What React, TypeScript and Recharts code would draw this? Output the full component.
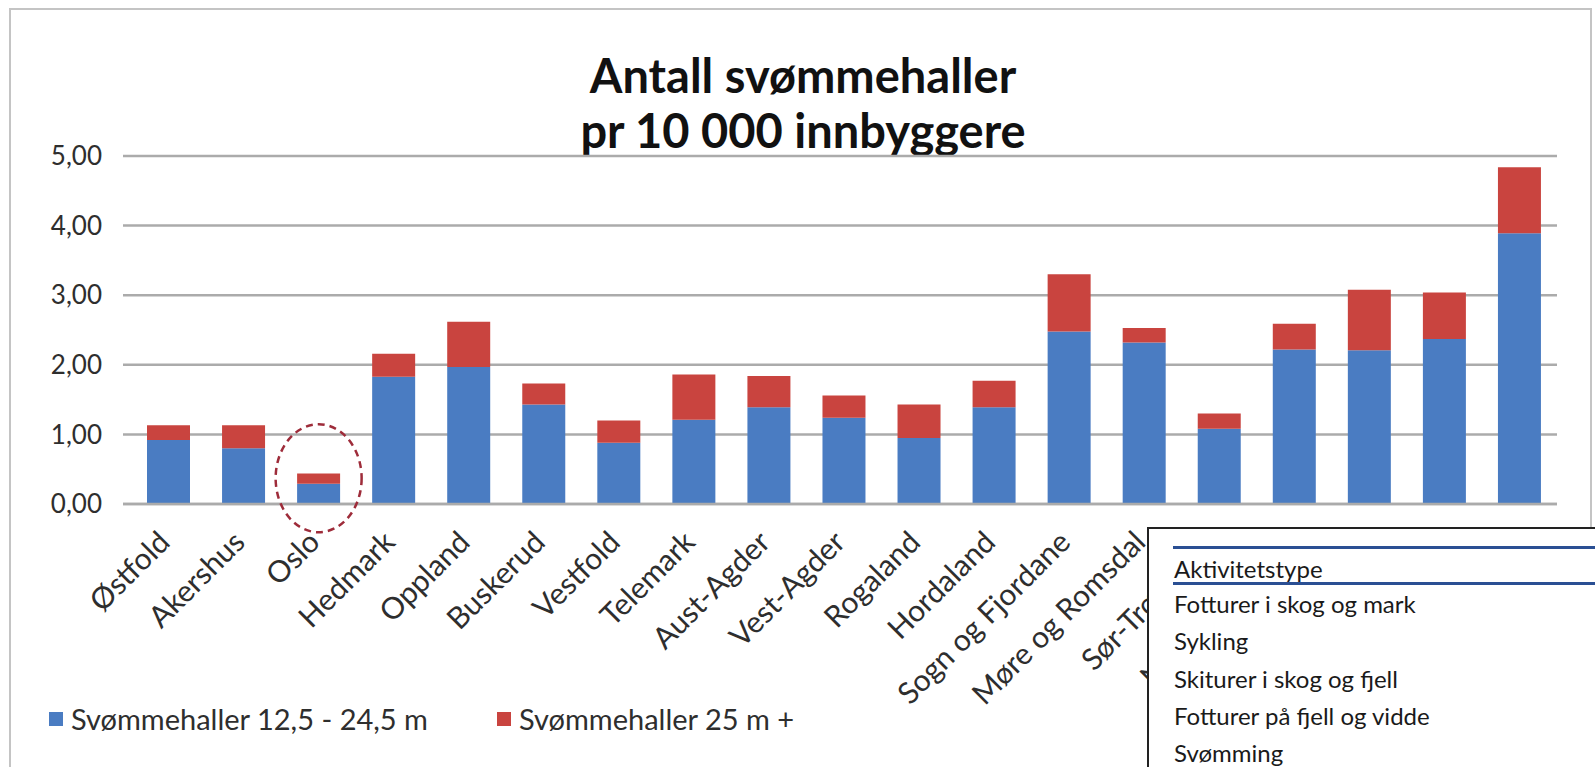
import { Bar, BarChart, CartesianGrid, ReferenceDot, XAxis, YAxis } from "recharts";

// Fylker (x-axis categories)
const counties = [
	"Østfold",
	"Akershus",
	"Oslo",
	"Hedmark",
	"Oppland",
	"Buskerud",
	"Vestfold",
	"Telemark",
	"Aust-Agder",
	"Vest-Agder",
	"Rogaland",
	"Hordaland",
	"Sogn og Fjordane",
	"Møre og Romsdal",
	"Sør-Trøndelag",
	"Nord-Trøndelag",
	"Nordland",
	"Troms",
	"Finnmark",
];

// Svømmehaller 12,5 - 24,5 m per 10 000 innbyggere
const smallHalls = [
	0.92, 0.8, 0.29, 1.83, 1.97, 1.43, 0.88, 1.21, 1.39, 1.24, 0.95, 1.39, 2.48, 2.32, 1.08, 2.22, 2.21,
	2.37, 3.89,
];

// Svømmehaller 25 m + per 10 000 innbyggere
const largeHalls = [
	0.21, 0.33, 0.15, 0.33, 0.65, 0.3, 0.32, 0.65, 0.45, 0.32, 0.48, 0.38, 0.82, 0.21, 0.22, 0.37, 0.87,
	0.67, 0.95,
];

const seriesNames = ["Svømmehaller 12,5 - 24,5 m", "Svømmehaller 25 m +"];
const yTicks = [0, 1, 2, 3, 4, 5];
const titleLines = ["Antall svømmehaller", "pr 10 000 innbyggere"];
const activityRows = [
	"Fotturer i skog og mark",
	"Sykling",
	"Skiturer i skog og fjell",
	"Fotturer på fjell og vidde",
	"Svømming",
];

const colors = {
	blue: "#4a7cc2",
	red: "#c9443f",
	grid: "#ababab",
	text: "#2e2e2e",
	ring: "#9e2c3a",
	tableLine: "#2a4f93",
};

const fontFamily = "Lato, 'Noto Sans', sans-serif";

const chartData = counties.map((name, i) => ({
	name,
	small: smallHalls[i],
	large: largeHalls[i],
}));

const formatTick = (v: number) => v.toFixed(2).replace(".", ",");

function CountyTick({ x, y, payload }: { x?: number; y?: number; payload?: { value: string } }) {
	return (
		<g transform={`translate(${(x ?? 0) + 3},${(y ?? 0) + 38})`}>
			<text
				x={0}
				y={0}
				textAnchor="end"
				transform="rotate(-45)"
				fontSize={30}
				fill={colors.text}
				fontFamily={fontFamily}
			>
				{payload?.value}
			</text>
		</g>
	);
}

// dashed ring drawn around the Oslo bar
function OsloRing({ cx, cy }: { cx?: number; cy?: number }) {
	return (
		<ellipse
			cx={cx ?? 0}
			cy={cy ?? 0}
			rx={43}
			ry={54}
			fill="none"
			stroke={colors.ring}
			strokeWidth={2.5}
			strokeDasharray="7 5"
		/>
	);
}

const legendLeft = [49, 497];

export default function App() {
	return (
		<div
			style={{
				position: "absolute",
				left: 0,
				top: 0,
				width: 1595,
				height: 767,
				overflow: "hidden",
				background: "#fff",
				fontFamily,
			}}
		>
			<div
				style={{
					position: "absolute",
					left: 9,
					top: 8,
					width: 1579,
					height: 800,
					border: "2px solid #c4c4c4",
				}}
			/>
			<div
				style={{
					position: "absolute",
					left: 0,
					width: 1606,
					top: 48,
					textAlign: "center",
					fontSize: 47,
					fontWeight: 700,
					lineHeight: "55px",
					color: "#111",
				}}
			>
				{titleLines.map((t) => (
					<div key={t}>{t}</div>
				))}
			</div>
			<div style={{ position: "absolute", left: 0, top: 0 }}>
				<BarChart
					width={1595}
					height={767}
					data={chartData}
					margin={{ top: 156, right: 38, left: 0, bottom: 63 }}
					barSize={43}
				>
					<CartesianGrid vertical={false} stroke={colors.grid} strokeWidth={2.5} />
					<XAxis
						dataKey="name"
						interval={0}
						height={200}
						padding={{ left: 8 }}
						tickLine={false}
						tickSize={0}
						axisLine={{ stroke: colors.grid, strokeWidth: 2.5 }}
						tick={<CountyTick />}
					/>
					<YAxis
						width={123}
						domain={[0, 5]}
						ticks={yTicks}
						tickFormatter={formatTick}
						axisLine={false}
						tickLine={false}
						tickSize={0}
						tickMargin={21}
						tick={{ fontSize: 26, fill: colors.text, fontFamily }}
					/>
					<Bar
						dataKey="small"
						name={seriesNames[0]}
						stackId="a"
						fill={colors.blue}
						isAnimationActive={false}
					/>
					<Bar
						dataKey="large"
						name={seriesNames[1]}
						stackId="a"
						fill={colors.red}
						isAnimationActive={false}
					/>
					<ReferenceDot x="Oslo" y={0.37} ifOverflow="visible" shape={<OsloRing />} />
				</BarChart>
			</div>
			{/* legend */}
			{seriesNames.map((name, i) => (
				<div
					key={name}
					style={{
						position: "absolute",
						left: legendLeft[i],
						top: 701,
						display: "flex",
						alignItems: "center",
						fontSize: 29,
						color: colors.text,
						whiteSpace: "nowrap",
					}}
				>
					<span
						style={{
							display: "inline-block",
							width: 14,
							height: 14,
							marginRight: 8,
							background: i === 0 ? colors.blue : colors.red,
						}}
					/>
					{name}
				</div>
			))}
			{/* overlapping table snippet */}
			<div
				style={{
					position: "absolute",
					left: 1147,
					top: 527,
					width: 460,
					height: 260,
					background: "#fff",
					border: "2px solid #222",
					fontSize: 24,
					lineHeight: "28px",
					color: "#1a1a1a",
				}}
			>
				<div
					style={{
						position: "absolute",
						left: 24,
						right: 0,
						top: 17,
						height: 3,
						background: colors.tableLine,
					}}
				/>
				<div style={{ position: "absolute", left: 25, top: 26 }}>Aktivitetstype</div>
				<div
					style={{
						position: "absolute",
						left: 24,
						right: 0,
						top: 53,
						height: 3,
						background: colors.tableLine,
					}}
				/>
				{activityRows.map((row, i) => (
					<div key={row} style={{ position: "absolute", left: 25, top: 61 + i * 37.3 }}>
						{row}
					</div>
				))}
			</div>
		</div>
	);
}
